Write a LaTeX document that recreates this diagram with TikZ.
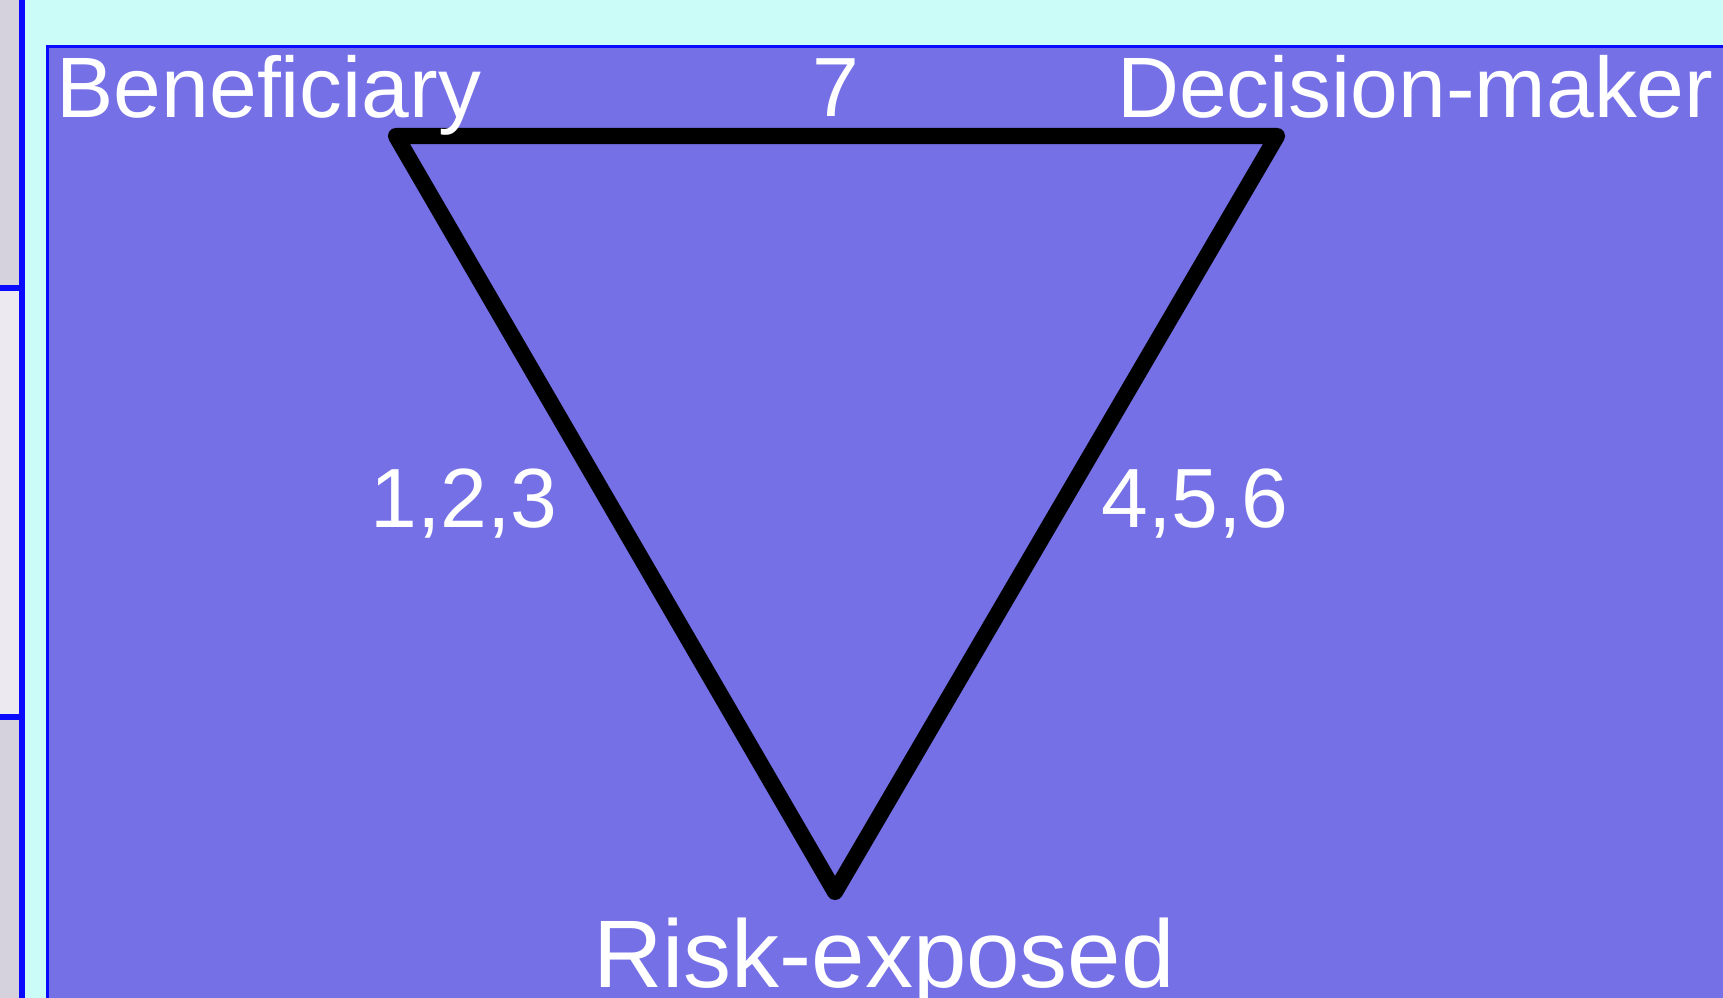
\documentclass[tikz,border=0pt]{standalone}
\usepackage{fontspec}
\setmainfont{Liberation Sans}
\usepackage{tikz}
\usetikzlibrary{calc,positioning}
\definecolor{SideGrey}{HTML}{D5D1DD}
\definecolor{SideLight}{HTML}{ECE9F0}
\definecolor{FrameBlue}{HTML}{0A0AFF}
\definecolor{PaleCyan}{HTML}{CCFCF7}
\definecolor{SlatePurple}{HTML}{7570E6}

\tikzset{
  rolelabel/.style={text=white, inner sep=0pt, font=\fontsize{24.4}{29}\selectfont},
  edgelabel/.style={text=white, inner sep=0pt, anchor=base, font=\fontsize{23.9}{28}\selectfont},
  riskedge/.style={line width=4.6pt, black, line join=round, line cap=round}
}

\begin{document}
\begin{tikzpicture}[x=0.01cm, y=-0.01cm]
  \useasboundingbox (0,0) rectangle (1723,998);

  % Window background
  \fill[SideGrey] (0,0) rectangle (19,998);
  \fill[SideLight] (0,291) rectangle (19,715);
  \fill[FrameBlue] (0,285) rectangle (22,291);
  \fill[FrameBlue] (0,714) rectangle (22,720);
  \fill[FrameBlue] (19,0) rectangle (25,998);
  \fill[PaleCyan] (25,0) rectangle (1723,998);

  % Slide panel
  \draw[line width=1pt, FrameBlue, fill=SlatePurple] (47.5,46.5) rectangle (1730,1010);

  % Triangle corners
  \coordinate (benef) at (396,136);
  \coordinate (decide) at (1277,136);
  \coordinate (exposed) at (835,892);
  \draw[riskedge] (benef) -- (decide) -- (exposed) -- cycle;

  % Role names
  \node[rolelabel, anchor=base west] (beneficiary) at (56,118) {Beneficiary};
  \node[rolelabel, anchor=base east] (decisionmaker) at (1714,118) {Decision-maker};
  \node[rolelabel, anchor=base, font=\fontsize{27.3}{32}\selectfont] (riskexposed) at (884,988) {Risk-exposed};

  % Edge numbers
  \node[edgelabel] (topnum) at (836,117) {7};
  \node[edgelabel] (leftnum) at (464,528) {1,2,3};
  \node[edgelabel] (rightnum) at (1195,528) {4,5,6};
\end{tikzpicture}
\end{document}
